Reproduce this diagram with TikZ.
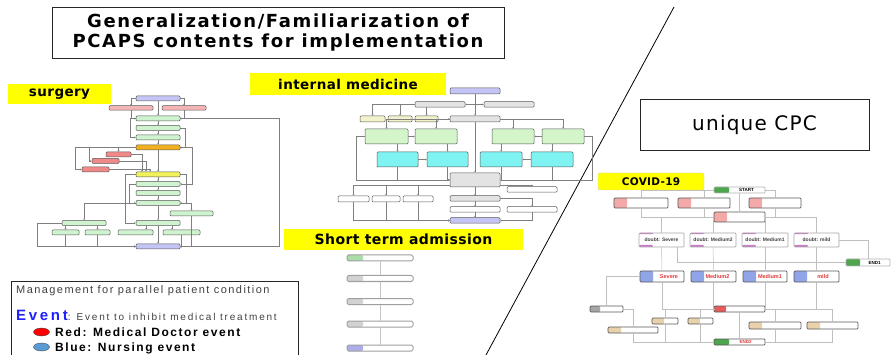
\documentclass[tikz,border=0pt]{standalone}
\usepackage{fontspec}
\setmainfont{Liberation Sans}
\newfontfamily\widesf[LetterSpace=13]{Liberation Sans}
\newfontfamily\legendsf[LetterSpace=18]{Liberation Sans}
\newfontfamily\titlesf[LetterSpace=9]{DejaVu Sans}
\newfontfamily\tagsf[LetterSpace=3]{DejaVu Sans}
\newfontfamily\cpcsf[LetterSpace=6]{DejaVu Sans}
\usetikzlibrary{arrows.meta,positioning,shapes.geometric}
\definecolor{hilite}{HTML}{FFFF00}
\definecolor{wiregray}{HTML}{7F7F7F}
\definecolor{boxline}{HTML}{595959}
\definecolor{sgpurple}{HTML}{C5C5F5}
\definecolor{sgpink}{HTML}{F5B5B5}
\definecolor{sggreen}{HTML}{CFF2CF}
\definecolor{sgorange}{HTML}{F2B01E}
\definecolor{sgred}{HTML}{F08A8A}
\definecolor{sgyellow}{HTML}{F2F25A}
\definecolor{imgray}{HTML}{E3E3E3}
\definecolor{imcream}{HTML}{F2F2CC}
\definecolor{imgreen}{HTML}{D3F5C9}
\definecolor{imcyan}{HTML}{7FF2F2}
\definecolor{stgreen}{HTML}{A9DDA9}
\definecolor{stgray}{HTML}{D2D2D2}
\definecolor{stblue}{HTML}{ADADEA}
\definecolor{cvpink}{HTML}{F4A9A9}
\definecolor{cvblue}{HTML}{90A5E8}
\definecolor{cvred}{HTML}{E65C5C}
\definecolor{cvtan}{HTML}{E9D1AB}
\definecolor{cvgreen}{HTML}{4EA54E}
\definecolor{cvgray}{HTML}{A5A5A5}
\definecolor{cvpurple}{HTML}{C87DC8}
\definecolor{cvtext}{HTML}{E03A3A}
\definecolor{evblue}{HTML}{1F1FFF}
\definecolor{dotred}{HTML}{FF0000}
\definecolor{dotblue}{HTML}{5B9BD5}

\begin{document}
\begin{tikzpicture}[x=1pt, y=-1pt,
    frame/.style={draw=black!85, line width=0.8pt, inner sep=0pt},
    tag/.style={fill=hilite, inner sep=0pt, font=\tagsf\bfseries},
    sbox/.style={draw=boxline, line width=.5pt, rounded corners=1pt, inner sep=0pt, minimum width=44pt, minimum height=5pt},
    ibox/.style={sbox, minimum width=50pt, minimum height=5.5pt},
    tbox/.style={draw=gray!75, line width=1pt, rounded corners=1.5pt, fill=white, inner sep=0pt, minimum width=66pt, minimum height=6pt},
    cbox/.style={draw=boxline, line width=.7pt, rounded corners=1pt, fill=white, inner sep=0pt, minimum height=10pt, font=\fontsize{5}{6}\selectfont\bfseries},
    lcell/.style 2 args={path picture={\fill[#1] (path picture bounding box.south west) rectangle ([xshift=#2]path picture bounding box.north west);}},
    dbar/.style={path picture={
        \fill[cvpurple] (path picture bounding box.north west) rectangle ([xshift=14pt,yshift=-1.2pt]path picture bounding box.north west);
        \fill[cvpurple] (path picture bounding box.south west) rectangle ([xshift=14pt,yshift=2pt]path picture bounding box.south west);}},
    wire/.style={draw=wiregray, line width=.6pt, -{Stealth[length=1.6pt,width=1.6pt]}},
    twire/.style={draw=gray!45, line width=.5pt},
    cwire/.style={draw=gray!50, line width=.5pt},
]
\useasboundingbox (0,0) rectangle (891,355);

% headings
\node[frame, minimum width=452pt, minimum height=51pt, align=center, font=\titlesf\bfseries\fontsize{18}{19.5}\selectfont] (title) at (278,32.5)
    {Generalization/Familiarization of\\PCAPS contents for implementation};
\node[frame, minimum width=229pt, minimum height=51pt, font=\cpcsf\fontsize{20}{24}\selectfont] (cpc) at (754.5,124.5) {unique CPC};
\coordinate (slashtop) at (674,7);
\coordinate (slashbot) at (486,355);
\draw[line width=0.8pt] (slashtop) -- (slashbot);

\node[tag, minimum width=103pt, minimum height=20pt, font=\tagsf\bfseries\fontsize{13.5}{16}\selectfont] (surgery) at (59.5,94) {surgery};
\node[tag, minimum width=196pt, minimum height=22pt, font=\tagsf\bfseries\fontsize{13.5}{16}\selectfont] (intmed) at (348,84.5) {internal medicine};
\node[tag, minimum width=239pt, minimum height=21pt, font=\tagsf\bfseries\fontsize{14}{16}\selectfont] (shortterm) at (403.5,239.5) {Short term admission};
\node[tag, draw=gray!40, rounded corners=2pt, minimum width=106pt, minimum height=17pt, font=\tagsf\bfseries\fontsize{10.5}{12}\selectfont] (covid) at (651,181.5) {COVID-19};

% surgery chart
\node[sbox, fill=sgpurple] (s0) at (158,98.5) {};
\node[sbox, fill=sgpink, minimum height=4.5pt] (s1) at (131,108) {};
\node[sbox, fill=sgpink, minimum height=4.5pt] (s2) at (184,108) {};
\node[sbox, fill=sggreen] (s3) at (158,118.5) {};
\node[sbox, fill=sggreen] (s4) at (158,128) {};
\node[sbox, fill=sggreen] (s5) at (158,137.5) {};
\node[sbox, fill=sgorange] (s6) at (158,147.5) {};
\node[sbox, fill=sgred, minimum width=25pt] (r1) at (118.5,154.5) {};
\node[sbox, fill=sgred, minimum width=27pt] (r2) at (105.5,161) {};
\node[sbox, fill=sgred, minimum width=27pt] (r3) at (95.5,169.5) {};
\node[sbox, fill=sgyellow] (s7) at (158,174.5) {};
\node[sbox, fill=sggreen] (s8) at (158,184) {};
\node[sbox, fill=sggreen] (s9) at (158,193) {};
\node[sbox, fill=sggreen] (s10) at (158,203) {};
\node[sbox, fill=sggreen, minimum width=43pt] (s11) at (191.5,213.5) {};
\node[sbox, fill=sggreen] (s12) at (84,223) {};
\node[sbox, fill=sggreen] (s13) at (158,223) {};
\node[sbox, fill=sggreen, minimum width=27pt] (b1) at (65.5,232.5) {};
\node[sbox, fill=sggreen, minimum width=25pt] (b2) at (97.5,232.5) {};
\node[sbox, fill=sggreen, minimum width=35pt] (b3) at (135.5,232.5) {};
\node[sbox, fill=sggreen, minimum width=37pt] (b4) at (181.5,232.5) {};
\node[sbox, fill=sgpurple] (s14) at (158,246.5) {};

\draw[wire] (s0) -- (s3);
\draw[wire] (s0.west) -| (s1);
\draw[wire] (s0.east) -| (s2);
\draw[wire] (s1) |- (s3);
\draw[wire] (s2) |- (s3);
\draw[wire] (s3) -- (s4);
\draw[wire] (s4) -- (s5);
\draw[wire] (s5) -- (s6);
\draw[wire] (s6) -- (s7);
\draw[wire] (s7) -- (s8);
\draw[wire] (s8) -- (s9);
\draw[wire] (s9) -- (s10);
\draw[wire] (s10) -- (s13);
\draw[wire] (s13) -- (s14);
\draw[wire] (s3.east) -- ++(99,0) |- (s14.east);
\draw[wire] (s3.west) -- ++(-5,0) |- (s5.west);
\draw[wire] (s4.east) -- ++(5,0) |- (s6.east);
\draw[wire] (s6.west) -| (r1);
\draw[wire] (s6.west) -- ++(-46,0) |- (r2.west);
\draw[wire] (s6.west) -- ++(-60,0) |- (r3.west);
\draw[wire] (r1.east) -| ([xshift=-16pt]s7.north);
\draw[wire] (r2.east) -| ([xshift=-12pt]s7.north);
\draw[wire] (r3.east) -| ([xshift=-8pt]s7.north);
\draw[wire] (s6.east) -- ++(12,0) |- (s8.east);
\draw[wire] (s7.east) -- ++(6,0) |- (s10.east);
\draw[wire] (s8.west) -- ++(-6,0) |- (s10.west);
\draw[wire] (s7.west) -- ++(-10,0) |- (s13.west);
\draw[wire] (s10.west) -| (s12);
\draw[wire] (s10.east) -| (s11);
\draw[wire] (s11) |- (s14.east);
\draw[wire] ([xshift=-18.5pt]s12.south) -- (b1.north);
\draw[wire] ([xshift=13.5pt]s12.south) -- (b2.north);
\draw[wire] ([xshift=-12pt]s13.south) -- ([xshift=10.5pt]b3.north);
\draw[wire] ([xshift=14pt]s13.south) -- ([xshift=-9.5pt]b4.north);
\draw[wire] (b1) |- (s14.west);
\draw[wire] (b2) |- (s14.west);
\draw[wire] (b4) |- (s14.east);
\draw[wire] (s12.west) -- ++(-24,0) |- (s14.west);

% internal medicine chart
\node[ibox, fill=sgpurple, minimum height=6pt] (m0) at (475,91) {};
\node[ibox, fill=imgray] (m1) at (440,104.5) {};
\node[ibox, fill=imgray] (m2) at (509,104.5) {};
\node[sbox, fill=imcream, minimum width=25pt, minimum height=6pt] (y1) at (372.5,119) {};
\node[sbox, fill=imcream, minimum width=24pt, minimum height=6pt] (y2) at (400,119) {};
\node[sbox, fill=imcream, minimum width=23pt, minimum height=6pt] (y3) at (426.5,119) {};
\node[ibox, fill=imgray, minimum height=6pt] (m3) at (475,119) {};
\node[sbox, fill=imgreen, minimum width=43pt, minimum height=15pt] (g1) at (386.5,136.5) {};
\node[sbox, fill=imgreen, minimum width=42pt, minimum height=15pt] (g2) at (436,136.5) {};
\node[sbox, fill=imgreen, minimum width=42pt, minimum height=15pt] (g3) at (513,136.5) {};
\node[sbox, fill=imgreen, minimum width=42pt, minimum height=15pt] (g4) at (563,136.5) {};
\node[sbox, fill=imcyan, minimum width=41pt, minimum height=15pt] (c1) at (397.5,159.5) {};
\node[sbox, fill=imcyan, minimum width=41pt, minimum height=15pt] (c2) at (447.5,159.5) {};
\node[sbox, fill=imcyan, minimum width=42pt, minimum height=15pt] (c3) at (501,159.5) {};
\node[sbox, fill=imcyan, minimum width=42pt, minimum height=15pt] (c4) at (552,159.5) {};
\node[ibox, fill=imgray, minimum height=14pt] (m4) at (475,180) {};
\node[ibox, fill=white] (m5) at (532,189.5) {};
\node[sbox, fill=white, minimum width=31pt, minimum height=6pt] (n1) at (353.5,199) {};
\node[sbox, fill=white, minimum width=28pt, minimum height=6pt] (n2) at (386,199) {};
\node[sbox, fill=white, minimum width=30pt, minimum height=6pt] (n3) at (418,199) {};
\node[ibox, fill=imgray] (m6) at (475,198.5) {};
\node[ibox, fill=white] (m7) at (475,209.5) {};
\node[ibox, fill=white] (m8) at (532,209.5) {};
\node[ibox, fill=sgpurple] (m9) at (475,220.5) {};

\draw[wire] (m0) -- (m3);
\draw[wire] (m0) |- (m1.east);
\draw[wire] (m0) |- (m2.west);
\draw[wire] (m1.west) -| (y1);
\draw[wire] (m1.west) -| (y2);
\draw[wire] ([xshift=-13.5pt]m1.south) -- (y3.north);
\draw[wire] (y3) -- (m3);
\draw[wire] (m3.west) -| (g1);
\draw[wire] (m3.west) -| (g2);
\draw[wire] (m3.east) -| (g3);
\draw[wire] (m3.east) -| (g4);
\draw[wire] (g1) -- (g2);
\draw[wire] (g4) -- (g3);
\draw[wire] (g1.south -| c1.north) -- (c1.north);
\draw[wire] (g2.south -| c2.north) -- (c2.north);
\draw[wire] (g3.south -| c3.north) -- (c3.north);
\draw[wire] (g4.south -| c4.north) -- (c4.north);
\draw[wire] (c1) -- (c2);
\draw[wire] (c4) -- (c3);
\draw[wire] (c1) |- (m4.west);
\draw[wire] (c2) |- (m4.west);
\draw[wire] (c3) |- (m4.east);
\draw[wire] (c4) |- (m4.east);
\draw[wire] (g1.west) -- ++(-8,0) |- (m4.west);
\draw[wire] (g4.east) -- ++(8,0) |- (m4.east);
\draw[wire] (m3) -- (m4);
\draw[wire] (m4) -- (m6);
\draw[wire] (m6) -- (m7);
\draw[wire] (m7) -- (m9);
\draw[wire] ([yshift=2pt]m4.south west) -| (n1);
\draw[wire] ([yshift=2pt]m4.south west) -| (n2);
\draw[wire] ([yshift=2pt]m4.south west) -| (n3);
\draw[wire] ([yshift=2pt]m4.south east) -| (m5);
\draw[wire] (m6.east) -| (m8);
\draw[wire] (m8) |- (m9.east);
\draw[wire] (n1) |- (m9.west);
\draw[wire] (n2) |- (m9.west);
\draw[wire] (n3) |- (m9.west);

% short term admission chart
\node[tbox, lcell={stgreen}{16pt}] (t0) at (380,258) {};
\node[tbox, lcell={stgray}{16pt}] (t1) at (380,278.5) {};
\node[tbox, lcell={stgray}{16pt}] (t2) at (380,301.5) {};
\node[tbox, lcell={stgray}{16pt}] (t3) at (380,324) {};
\node[tbox, lcell={stblue}{16pt}] (t4) at (380,348) {};
\draw[twire] (t0) -- (t1);
\draw[twire] (t1) -- (t2);
\draw[twire] (t2) -- (t3);
\draw[twire] (t3) -- (t4);

% COVID-19 chart
\node[cbox, draw=gray!60, lcell={cvgreen}{15pt}, minimum width=51pt, minimum height=6pt, font=\fontsize{4.5}{5}\selectfont\bfseries] (cstart) at (739.5,190) {\hspace*{14pt}START};
\node[cbox, lcell={cvpink}{13pt}, minimum width=54pt] (p1) at (641,203) {};
\node[cbox, lcell={cvpink}{13pt}, minimum width=52pt] (p2) at (704,203) {};
\node[cbox, lcell={cvpink}{13pt}, minimum width=52pt] (p3) at (775,203) {};
\node[cbox, lcell={cvpink}{13pt}, minimum width=51pt] (p4) at (739.5,217) {};
\node[cbox, dbar, draw=gray!70, minimum width=45pt, minimum height=14pt, text=black!75] (d1) at (661.5,240) {doubt: Severe};
\node[cbox, dbar, draw=gray!70, minimum width=46pt, minimum height=14pt, text=black!75] (d2) at (713,240) {doubt: Medium2};
\node[cbox, dbar, draw=gray!70, minimum width=46pt, minimum height=14pt, text=black!75] (d3) at (765,240) {doubt: Medium1};
\node[cbox, dbar, draw=gray!70, minimum width=45pt, minimum height=14pt, text=black!75] (d4) at (816.5,240) {doubt: mild};
\node[cbox, draw=gray!60, lcell={cvgreen}{14pt}, minimum width=44pt, minimum height=7pt, font=\fontsize{4.5}{5}\selectfont\bfseries] (cend1) at (868,262.5) {\hspace*{13pt}END1};
\node[cbox, lcell={cvblue}{13pt}, minimum width=44pt, minimum height=11pt, text=cvtext, font=\fontsize{5.5}{6}\selectfont\bfseries] (v1) at (662,276.5) {\hspace*{14pt}Severe};
\node[cbox, lcell={cvblue}{13pt}, minimum width=45pt, minimum height=11pt, text=cvtext, font=\fontsize{5.5}{6}\selectfont\bfseries] (v2) at (713.5,276.5) {\hspace*{8pt}Medium2};
\node[cbox, lcell={cvblue}{13pt}, minimum width=44pt, minimum height=11pt, text=cvtext, font=\fontsize{5.5}{6}\selectfont\bfseries] (v3) at (765,276.5) {\hspace*{10pt}Medium1};
\node[cbox, lcell={cvblue}{13pt}, minimum width=45pt, minimum height=11pt, text=cvtext, font=\fontsize{5.5}{6}\selectfont\bfseries] (v4) at (816.5,276.5) {\hspace*{13pt}mild};
\node[cbox, lcell={cvgray}{10pt}, minimum width=33pt, minimum height=6pt] (q1) at (606.5,309) {};
\node[cbox, lcell={cvred}{12pt}, minimum width=51pt, minimum height=6pt] (q2) at (739.5,309) {};
\node[cbox, lcell={cvtan}{12pt}, minimum width=26pt, minimum height=6pt] (q3) at (665,321) {};
\node[cbox, lcell={cvtan}{12pt}, minimum width=25pt, minimum height=6pt] (q4) at (700.5,321) {};
\node[cbox, lcell={cvtan}{13pt}, minimum width=52pt, minimum height=7pt] (q5) at (775,325.5) {};
\node[cbox, lcell={cvtan}{13pt}, minimum width=51pt, minimum height=7pt] (q6) at (832.5,325.5) {};
\node[cbox, lcell={cvtan}{13pt}, minimum width=50pt, minimum height=6pt] (q7) at (633,330) {};
\node[cbox, lcell={cvgreen}{15pt}, minimum width=51pt, minimum height=6pt, text=cvtext, font=\fontsize{4.5}{5}\selectfont\bfseries] (cend2) at (739.5,342) {\hspace*{12pt}END2};

\draw[cwire] (cstart.west) -| (p1);
\draw[cwire] (cstart.west) -| (p2);
\draw[cwire] (cstart.east) -| (p3);
\draw[cwire] (cstart) -- (p4);
\draw[cwire] (p1) |- (p4.west);
\draw[cwire] (p2) |- (p4.west);
\draw[cwire] (p3) |- (p4.east);
\draw[cwire] (p4.west) -| (d1);
\draw[cwire] (p4.west) -| (d2);
\draw[cwire] (p4.east) -| (d3);
\draw[cwire] (p4.east) -| (d4);
\draw[cwire] (d1) -- (v1);
\draw[cwire] (d2) -- (v2);
\draw[cwire] (d3) -- (v3);
\draw[cwire] (d4) -- (v4);
\draw[cwire] (d4.east) -| (cend1);
\draw[cwire] ([xshift=16pt]d1.south) |- (cend1.west);
\draw[cwire] (v1.west) -| (q1);
\draw[cwire] (v1) |- (q2.west);
\draw[cwire] (v2) |- (q2.west);
\draw[cwire] (v3) |- (q2.east);
\draw[cwire] (v4) |- (q2.east);
\draw[cwire] (q2.west) -| (q3);
\draw[cwire] (q2.west) -| (q4);
\draw[cwire] (q2.east) -| (q5);
\draw[cwire] (q2.east) -| (q6);
\draw[cwire] (q1.east) -| (q7);
\draw[cwire] (q2) -- (cend2);
\draw[cwire] (q3) |- (cend2.west);
\draw[cwire] (q4) |- (cend2.west);
\draw[cwire] (q7) |- (cend2.west);
\draw[cwire] (q5) |- (cend2.east);
\draw[cwire] (q6) |- (cend2.east);

% legend
\node[frame, anchor=north west, minimum width=287pt, minimum height=80pt] (legend) at (11,281) {};
\node[anchor=base west, inner sep=0pt, text=black!75, font=\widesf\fontsize{11}{13}\selectfont] (mgmt) at (16,293) {Management for parallel patient condition};
\node[anchor=base west, inner sep=0pt, text=black!75, font=\legendsf\fontsize{10}{12}\selectfont] (evt) at (16,320)
    {\textcolor{evblue}{\fontsize{15}{18}\selectfont\bfseries Event}: Event to inhibit medical treatment};
\node[ellipse, draw=black!70, fill=dotred, minimum width=16pt, minimum height=8pt, inner sep=0pt] (reddot) at (41.5,332) {};
\node[anchor=base west, inner sep=0pt, font=\widesf\bfseries\fontsize{12}{14}\selectfont] (redtxt) at (55,336) {Red: Medical Doctor event};
\node[ellipse, draw=black!70, fill=dotblue, minimum width=16pt, minimum height=8pt, inner sep=0pt] (bluedot) at (41.5,347) {};
\node[anchor=base west, inner sep=0pt, font=\widesf\bfseries\fontsize{12}{14}\selectfont] (bluetxt) at (55,351) {Blue: Nursing event};
\end{tikzpicture}
\end{document}
